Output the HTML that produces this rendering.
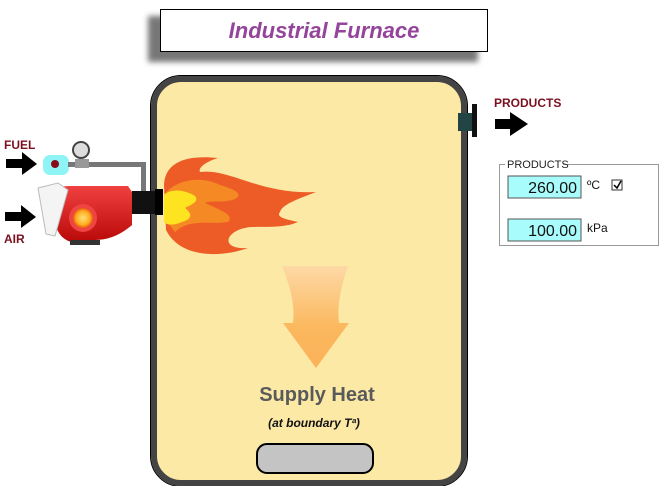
<!DOCTYPE html>
<html><head><meta charset="utf-8"><style>
body{margin:0;width:661px;height:482px;background:#fff;overflow:hidden;position:relative;font-family:"Liberation Sans",sans-serif}
.a{position:absolute}
</style></head><body>
<!-- title -->
<div class="a" style="left:148px;top:16px;width:330px;height:46px;background:#777;filter:blur(3px)"></div>
<div class="a" style="left:160px;top:9px;width:328px;height:43px;background:#fff;border:1px solid #000;box-sizing:border-box;text-align:center;line-height:42px;font-size:22px;font-weight:bold;font-style:italic;color:#94449a">Industrial Furnace</div>
<!-- furnace -->
<div class="a" style="left:151px;top:76px;width:316px;height:410px;background:#fce9a6;border:6px solid #444;outline:1px solid #000;border-radius:30px;box-sizing:border-box"></div>
<svg class="a" style="left:0;top:0" width="661" height="482">
<defs>
<linearGradient id="ag" x1="0" y1="0" x2="0" y2="1"><stop offset="0" stop-color="#fdd9a6"/><stop offset="0.6" stop-color="#fbb85e"/><stop offset="1" stop-color="#fbb25a"/></linearGradient>
<radialGradient id="ob" cx="0.5" cy="0.5" r="0.5"><stop offset="0" stop-color="#ffe27a"/><stop offset="0.7" stop-color="#ffaa20"/><stop offset="1" stop-color="#e85a10"/></radialGradient>
<linearGradient id="rb" x1="0" y1="0" x2="0" y2="1"><stop offset="0" stop-color="#f04040"/><stop offset="1" stop-color="#b80808"/></linearGradient>
</defs>
<!-- heat arrow -->
<path d="M282,266 L348,266 Q336,300 339,323 L349,323 L316,368 L283,323 L293,323 Q296,300 282,266Z" fill="url(#ag)"/>
<text x="317" y="401" text-anchor="middle" font-family="Liberation Sans,sans-serif" font-weight="bold" font-size="20" fill="#5a5a5a">Supply Heat</text>
<text x="314" y="427" text-anchor="middle" font-style="italic" font-weight="bold" font-size="12" fill="#111">(at boundary Tª)</text>
<rect x="257" y="444" width="116" height="29" rx="10" fill="#c4c4c4" stroke="#000" stroke-width="2"/>
<!-- flame -->
<path d="M164,185 C165,160 190,155 218,158 C205,162 198,168 200,172 C230,168 260,195 316,192 C295,200 282,205 280,212 C275,218 290,220 298,222 C280,230 255,225 245,228 C225,232 220,250 248,248 C220,258 180,258 166,230 Z" fill="#ed5c26"/>
<path d="M164,195 C175,180 200,175 220,185 C245,192 240,198 232,200 C220,203 210,200 205,203 C220,210 235,215 228,222 C210,225 190,218 175,232 C170,225 164,220 164,210Z" fill="#f58a24"/>
<path d="M164,195 C172,188 185,190 195,196 C200,202 190,205 185,208 C190,212 195,218 182,222 C175,225 168,226 164,222Z" fill="#fde320"/>
<!-- products outlet -->
<rect x="458" y="113" width="16" height="18" fill="#244"/>
<rect x="472" y="104" width="5" height="33" fill="#111"/>
<path d="M495,119 L510,119 L510,112 L528,124 L510,136 L510,129 L495,129Z" fill="#000"/>
<text x="494" y="107" font-weight="bold" font-size="12" fill="#7a1020">PRODUCTS</text>
<!-- left side -->
<text x="4" y="149" font-weight="bold" font-size="12" fill="#7a1020">FUEL</text>
<text x="4" y="243" font-weight="bold" font-size="12" fill="#7a1020">AIR</text>
<path d="M6,159 L22,159 L22,152 L37,164 L22,175 L22,168 L6,168Z" fill="#000"/>
<path d="M5,212 L21,212 L21,205 L36,217 L21,228 L21,221 L5,221Z" fill="#000"/>
<rect x="43" y="155" width="26" height="20" rx="7" fill="#8ef4f6"/>
<circle cx="55" cy="164" r="4" fill="#8a0a1a"/>
<rect x="68" y="162" width="78" height="5" fill="#777"/>
<rect x="141" y="162" width="5" height="30" fill="#777"/>
<rect x="75" y="159" width="14" height="9" fill="#999"/>
<circle cx="81" cy="150" r="8" fill="#ddd" stroke="#444" stroke-width="2"/>
<path d="M52,192 Q55,186 70,186 L128,186 L132,192 L132,225 Q115,240 95,240 L75,243 Q58,240 55,222Z" fill="url(#rb)"/>
<path d="M38,188 L58,183 L68,190 L55,236 L46,234Z" fill="#f4f4f4" stroke="#bbb"/>
<circle cx="83" cy="218" r="14" fill="#e44"/>
<circle cx="83" cy="218" r="10" fill="url(#ob)"/>
<rect x="70" y="240" width="30" height="5" fill="#333"/>
<rect x="132" y="191" width="26" height="23" fill="#111"/>
<rect x="155" y="189" width="8" height="26" fill="#000"/>
<!-- products panel -->
<rect x="499.5" y="164.5" width="159" height="81" fill="#fff" stroke="#999"/>
<rect x="505" y="158" width="58" height="12" fill="#fff"/>
<text x="507" y="168" font-size="11" fill="#222">PRODUCTS</text>
<rect x="508" y="176" width="73" height="22" fill="#a8fcfc" stroke="#555"/>
<text x="577" y="193" text-anchor="end" font-size="16" fill="#111">260.00</text>
<text x="587" y="189" font-size="12" fill="#111">ºC</text>
<rect x="612" y="180" width="10" height="10" fill="#fff" stroke="#333"/>
<path d="M614,185 L617,188 L621,181" stroke="#000" stroke-width="1.5" fill="none"/>
<rect x="508" y="219" width="73" height="22" fill="#a8fcfc" stroke="#555"/>
<text x="577" y="236" text-anchor="end" font-size="16" fill="#111">100.00</text>
<text x="587" y="232" font-size="12" fill="#111">kPa</text>
</svg>
</body></html>
